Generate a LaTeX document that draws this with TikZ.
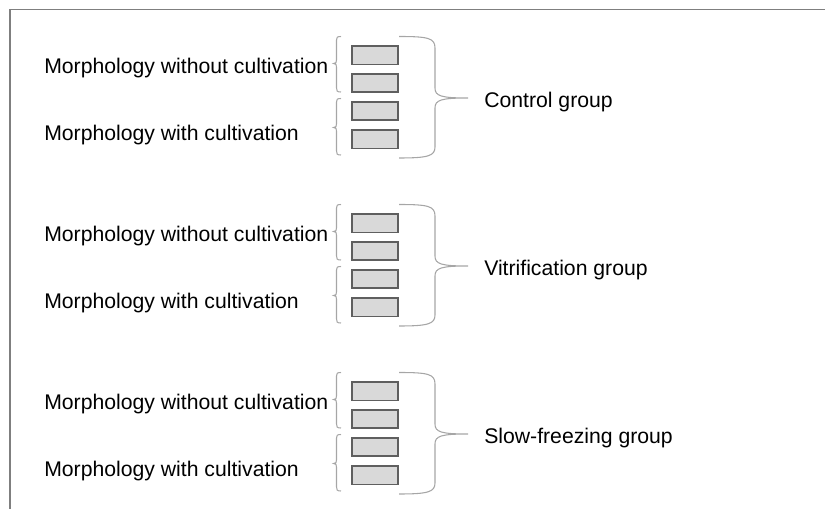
\documentclass[tikz,border=0pt]{standalone}
\usepackage{fontspec}
\setmainfont{Liberation Sans}
\definecolor{boxfill}{HTML}{D9D9D9}
\definecolor{boxedge}{HTML}{5F5F5F}
\definecolor{bracecol}{HTML}{A6A6A6}
\definecolor{framecol}{HTML}{7F7F7F}
\begin{document}
\begin{tikzpicture}[x=0.75pt,y=-0.75pt,
  box/.style={draw=boxedge, fill=boxfill, line width=1.2pt, minimum width=34.5pt, minimum height=13.8pt, inner sep=0pt},
  lbl/.style={anchor=west, inner sep=0pt, font=\fontsize{15.9pt}{19pt}\selectfont},
  brace/.style={draw=bracecol, line width=0.8pt}]
\useasboundingbox (0,0) rectangle (825,509);
\coordinate (fTL) at (10,9.5);
\coordinate (fTR) at (825,9.5);
\coordinate (fBL) at (10,509);
\draw[framecol, line width=1.4pt] (fBL) -- (fTL) -- (fTR);
\foreach \g/\name/\dy in {1/Control group/0, 2/Vitrification group/168, 3/Slow-freezing group/336}{
  \begin{scope}[yshift=-\dy*0.75pt]
    \node[box] (b\g a) at (375,55.5) {};
    \node[box] (b\g b) at (375,83) {};
    \node[box] (b\g c) at (375,111) {};
    \node[box] (b\g d) at (375,139.5) {};
    \node[lbl] (l\g a) at (44,68) {Morphology without cultivation};
    \node[lbl] (l\g b) at (44,135) {Morphology with cultivation};
    \node[lbl] (g\g) at (484,102) {\name};
    % big right brace
    \draw[brace] (399,36.5) .. controls (428,36.5) and (435,38) .. (435,48)
      -- (435,88) .. controls (435,96) and (441,98) .. (468,98)
      .. controls (441,98) and (435,100) .. (435,108)
      -- (435,147) .. controls (435,156) and (428,158) .. (399,158);
    % small left brackets
    \draw[brace] (341,36.5) .. controls (337,36.5) and (336.5,37.5) .. (336.5,40)
      -- (336.5,60) .. controls (336.5,62.5) and (336,63.5) .. (333.5,63.5)
      .. controls (336,63.5) and (336.5,64.5) .. (336.5,67)
      -- (336.5,88) .. controls (336.5,91) and (337,92) .. (341,92);
    \draw[brace] (341,98.5) .. controls (337,98.5) and (336.5,99.5) .. (336.5,102)
      -- (336.5,124) .. controls (336.5,126.5) and (336,127.5) .. (333.5,127.5)
      .. controls (336,127.5) and (336.5,128.5) .. (336.5,131)
      -- (336.5,151) .. controls (336.5,154) and (337,155) .. (341,155);
  \end{scope}
}
\end{tikzpicture}
\end{document}
